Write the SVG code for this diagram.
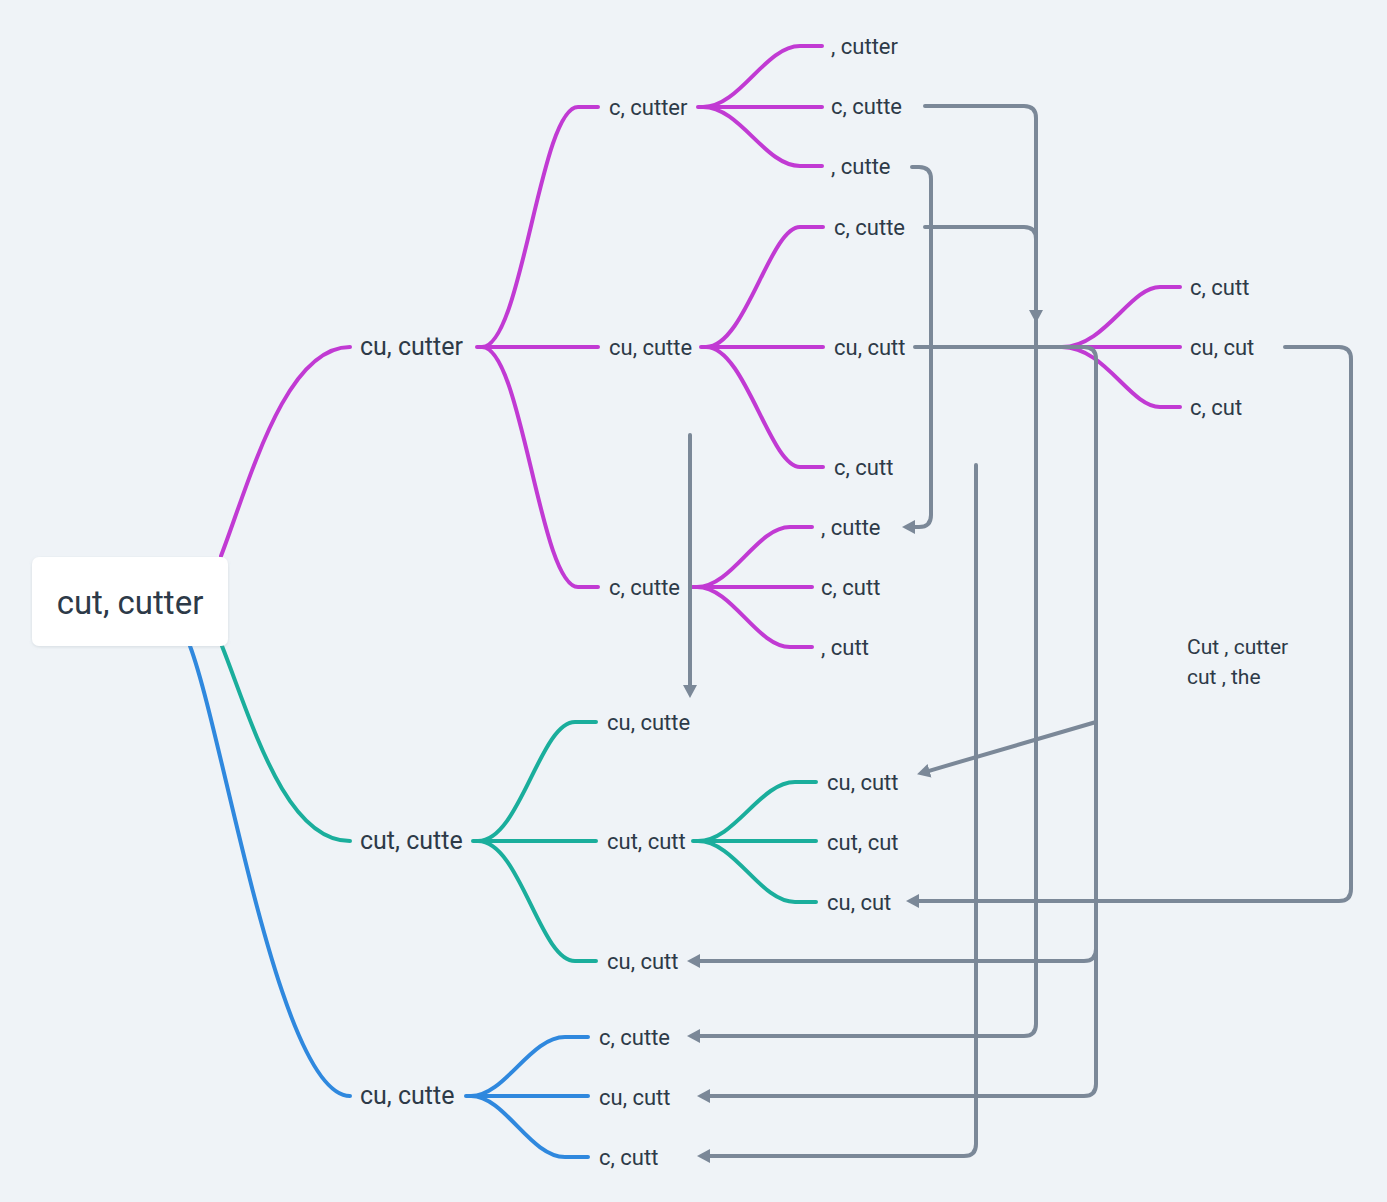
<svg xmlns="http://www.w3.org/2000/svg" width="1387" height="1202" viewBox="0 0 1387 1202">
<defs>
<style>
.bg{fill:#eff3f7}
.t{font-family:Roboto,"Liberation Sans",sans-serif;fill:#2d3a48}
.l2{font-size:22px}
.l1{font-size:25px}
.root{font-size:33px}
.pu{fill:none;stroke:#c13ad3;stroke-width:4;stroke-linecap:round}
.te{fill:none;stroke:#1aae9c;stroke-width:4;stroke-linecap:round}
.bl{fill:none;stroke:#2f88de;stroke-width:4;stroke-linecap:round}
.rel{fill:none;stroke:#7b8898;stroke-width:4;stroke-linecap:round;stroke-linejoin:round;marker-end:url(#arr)}
</style>
<marker id="arr" markerUnits="userSpaceOnUse" markerWidth="14" markerHeight="16" refX="4" refY="8" orient="auto" viewBox="0 0 14 16">
<path d="M0,1 L13,8 L0,15 Z" fill="#7b8898"/>
</marker>
<filter id="sh" x="-10%" y="-10%" width="120%" height="130%">
<feDropShadow dx="0" dy="1" stdDeviation="1.5" flood-color="#8a96a3" flood-opacity="0.25"/>
</filter>
</defs>
<rect class="bg" x="0" y="0" width="1387" height="1202"/>

<g id="tree-edges">
<path class="pu" d="M221,556 C250,480 285,347 350,347"/>
<path class="te" d="M222,646 C252,722 285,841 350,841"/>
<path class="bl" d="M190,646 C225,740 280,1096 350,1096"/>

<path class="pu" d="M477,347 H598"/>
<path class="pu" d="M482,347 C522,347 540,107 578,107 H598"/>
<path class="pu" d="M482,347 C522,347 540,587 578,587 H598"/>

<path class="pu" d="M698,107 H822"/>
<path class="pu" d="M703,107 C740,107 765,46 800,46 H822"/>
<path class="pu" d="M703,107 C740,107 765,166 800,166 H822"/>

<path class="pu" d="M701,347 H823"/>
<path class="pu" d="M706,347 C745,347 770,227 800,227 H823"/>
<path class="pu" d="M706,347 C745,347 770,467 800,467 H823"/>

<path class="pu" d="M692,587 H812"/>
<path class="pu" d="M697,587 C732,587 757,527 790,527 H812"/>
<path class="pu" d="M697,587 C732,587 757,647 790,647 H812"/>

<path class="pu" d="M1057,347 H1180"/>
<path class="pu" d="M1062,347 C1105,347 1130,287 1160,287 H1180"/>
<path class="pu" d="M1062,347 C1105,347 1130,407 1160,407 H1180"/>

<path class="te" d="M473,841 H596"/>
<path class="te" d="M478,841 C520,841 540,722 575,722 H596"/>
<path class="te" d="M478,841 C520,841 540,961 575,961 H596"/>

<path class="te" d="M693,841 H816"/>
<path class="te" d="M698,841 C735,841 760,782 795,782 H816"/>
<path class="te" d="M698,841 C735,841 760,902 795,902 H816"/>

<path class="bl" d="M466,1096 H588"/>
<path class="bl" d="M471,1096 C505,1096 530,1037 565,1037 H588"/>
<path class="bl" d="M471,1096 C505,1096 530,1157 565,1157 H588"/>
</g>

<g id="root">
<rect x="32" y="557" width="196" height="89" rx="7" fill="#ffffff" filter="url(#sh)"/>
<text class="t root" x="130" y="614" text-anchor="middle">cut, cutter</text>
</g>

<g id="n-cu-cutter"><text class="t l1" x="360" y="355">cu, cutter</text></g>
<g id="n-cut-cutte"><text class="t l1" x="360" y="849">cut, cutte</text></g>
<g id="n-cu-cutte-blue"><text class="t l1" x="360" y="1104">cu, cutte</text></g>

<g id="n-c-cutter"><text class="t l2" x="609" y="115">c, cutter</text></g>
<g id="n-cu-cutte"><text class="t l2" x="609" y="355">cu, cutte</text></g>
<g id="n-c-cutte"><text class="t l2" x="609" y="595">c, cutte</text></g>

<g id="n-a1"><text class="t l2" x="831" y="54">, cutter</text></g>
<g id="n-a2"><text class="t l2" x="831" y="114">c, cutte</text></g>
<g id="n-a3"><text class="t l2" x="831" y="174">, cutte</text></g>

<g id="n-b1"><text class="t l2" x="834" y="235">c, cutte</text></g>
<g id="n-b2"><text class="t l2" x="834" y="355">cu, cutt</text></g>
<g id="n-b3"><text class="t l2" x="834" y="475">c, cutt</text></g>

<g id="n-c1"><text class="t l2" x="821" y="535">, cutte</text></g>
<g id="n-c2"><text class="t l2" x="821" y="595">c, cutt</text></g>
<g id="n-c3"><text class="t l2" x="821" y="655">, cutt</text></g>

<g id="n-d1"><text class="t l2" x="1190" y="295">c, cutt</text></g>
<g id="n-d2"><text class="t l2" x="1190" y="355">cu, cut</text></g>
<g id="n-d3"><text class="t l2" x="1190" y="415">c, cut</text></g>

<g id="n-e1"><text class="t l2" x="607" y="730">cu, cutte</text></g>
<g id="n-e2"><text class="t l2" x="607" y="849">cut, cutt</text></g>
<g id="n-e3"><text class="t l2" x="607" y="969">cu, cutt</text></g>

<g id="n-f1"><text class="t l2" x="827" y="790">cu, cutt</text></g>
<g id="n-f2"><text class="t l2" x="827" y="850">cut, cut</text></g>
<g id="n-f3"><text class="t l2" x="827" y="910">cu, cut</text></g>

<g id="n-g1"><text class="t l2" x="599" y="1045">c, cutte</text></g>
<g id="n-g2"><text class="t l2" x="599" y="1105">cu, cutt</text></g>
<g id="n-g3"><text class="t l2" x="599" y="1165">c, cutt</text></g>

<g id="note">
<text class="t" font-size="21" x="1187" y="654">Cut , cutter</text>
<text class="t" font-size="21" x="1187" y="684">cut , the</text>
</g>

<g id="connectors">
<path class="rel" d="M925,106 H1024 Q1036,106 1036,118 V314"/>
<path class="rel" d="M925,227 H1024 Q1036,227 1036,239 V1024 Q1036,1036 1024,1036 H696"/>
<path class="rel" d="M912,167 H919 Q931,167 931,179 V515 Q931,527 919,527 H911"/>
<path class="rel" d="M690,435 V689"/>
<path class="rel" d="M915,347 H1084 Q1096,347 1096,359 V1084 Q1096,1096 1084,1096 H706"/>
<path class="rel" d="M1096,555 V949 Q1096,961 1084,961 H696"/>
<path class="rel" d="M1096,722 L925.7,771.8"/>
<path class="rel" d="M1285,347 H1339 Q1351,347 1351,359 V889 Q1351,901 1339,901 H915"/>
<path class="rel" d="M976,465 V1144 Q976,1156 964,1156 H706"/>
</g>
</svg>
